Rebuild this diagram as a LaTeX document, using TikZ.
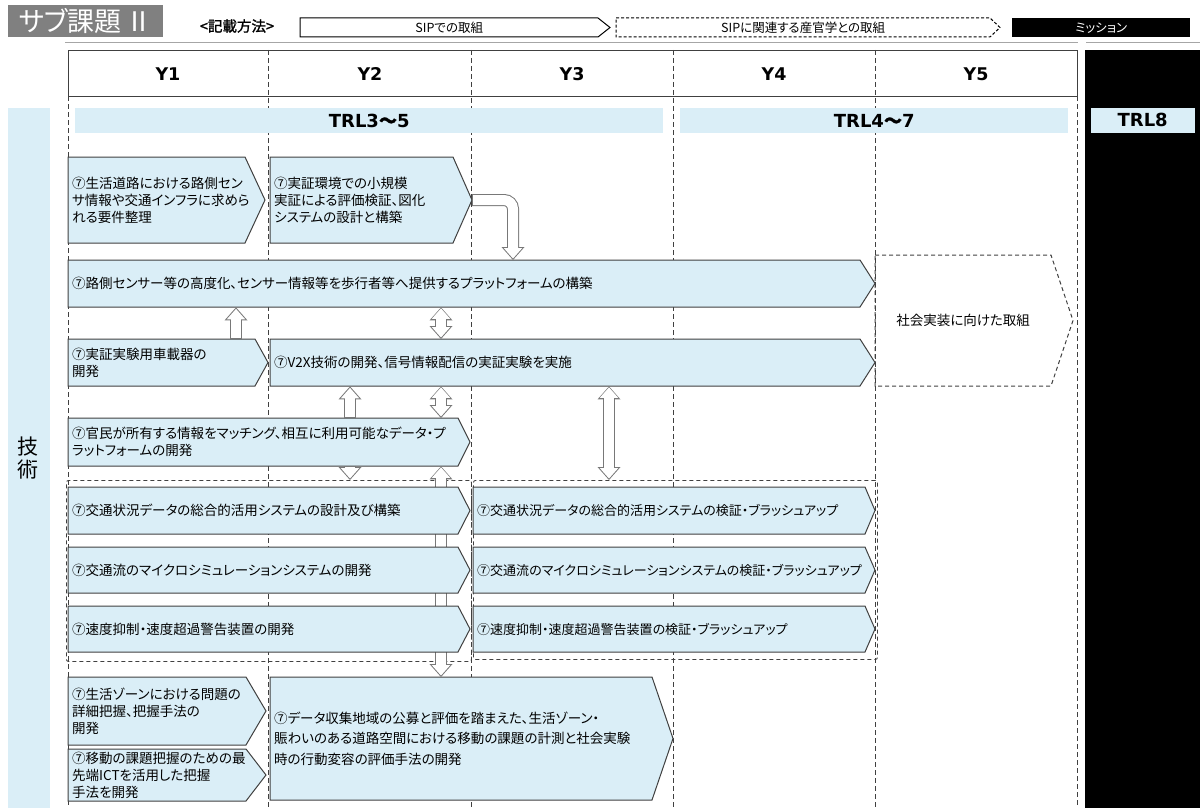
\documentclass[tikz,border=0pt]{standalone}
\usepackage{fontspec}
\usetikzlibrary{arrows.meta,calc}
\newfontfamily\cjk{Noto Sans CJK JP}[CharacterWidth=AlternateProportional]
\newfontfamily\cjkb{Noto Sans CJK JP}[FakeBold=1.5]
\newfontfamily\verd{DejaVu Sans}
\definecolor{boxblue}{RGB}{218,238,247}
\definecolor{boxgray}{RGB}{64,64,64}
\definecolor{arrowgray}{RGB}{120,120,120}
\definecolor{titlegray}{RGB}{128,128,128}

\tikzset{
  taskline/.style={draw=boxgray, fill=boxblue, line width=1pt},
  tasktext/.style={inner xsep=4pt, inner ysep=0pt, align=left, font=\cjk\fontsize{13.5}{17}\selectfont},
  narrowtext/.style={font=\cjk\fontsize{13}{17}\selectfont},
  plan/.style={fill=none, dash pattern=on 4pt off 3pt, align=center},
  legendbox/.style={fill=white, draw=black, align=center, font=\cjk\fontsize{12.5}{14}\selectfont},
  group/.style={draw=boxgray, dash pattern=on 4pt off 3pt, line width=0.9pt, rounded corners=2pt, inner sep=0pt},
  colsep/.style={draw=boxgray, line width=0.9pt, dash pattern=on 5pt off 3pt},
  yhead/.style={font=\verd\bfseries\fontsize{17.5}{17.5}\selectfont},
  trlbar/.style={fill=boxblue, inner sep=0pt, font=\verd\bfseries\fontsize{18}{18}\selectfont},
  hollowout/.style={draw=arrowgray, line width=12pt, >={Triangle[width=23pt,length=13pt,line width=0pt]}},
  hollowin/.style={draw=white, line width=10pt, shorten <=1pt, shorten >=1.5pt, >={Triangle[width=18.6pt,length=10.5pt,line width=0pt]}}
}

% [style]{name}{x}{y}{width}{height}{tip}{text}
\newcommand{\taskbox}[8][]{%
  \draw[taskline,#1] (#3,#4) -- ++(#5,0) -- ++(#7,#6/2) -- ++(-#7,#6/2) -- ++(-#5,0) -- cycle;
  \pgfmathsetmacro\boxtw{#5-8}
  \node[tasktext,#1,draw=none,fill=none,anchor=north west,minimum width=#5pt,minimum height=#6pt,text width=\boxtw pt] (#2) at (#3,#4) {#8};
  \coordinate (#2tip) at (#3+#5+#7,#4+#6/2);
}
% hollow block arrow
\newcommand{\hollow}[2][->]{%
  \draw[hollowout,#1] #2;
  \draw[hollowin,#1] #2;
}

\begin{document}
\begin{tikzpicture}[x=1pt,y=-1pt]
  \useasboundingbox (0,0) rectangle (1200,808);

  % legend row
  \node[fill=titlegray, text=white, font=\cjk\fontsize{27}{27}\selectfont, minimum width=155pt, minimum height=32pt, anchor=north west] (title) at (8,5) {サブ課題\hspace{4pt}Ⅱ};
  \node[font=\cjkb\fontsize{14.5}{14.5}\selectfont] (howto) at (237,26) {<記載方法>};
  \taskbox[legendbox]{sip}{300}{18}{298}{19}{12}{SIPでの取組}
  \taskbox[legendbox, dash pattern=on 3pt off 2pt]{partner}{616}{18}{374}{19}{10}{SIPに関連する産官学との取組}
  \node[fill=black, text=white, font=\cjk\fontsize{12.5}{14}\selectfont, minimum width=178pt, minimum height=19pt, anchor=north west] (mission) at (1012,18) {ミッション};
  \draw[gray!70, line width=1pt] (65,43) -- (1078,43) (1086,43) -- (1200,43);

  % years
  \node[draw=boxgray, line width=1.2pt, minimum width=1009pt, minimum height=46pt, anchor=north west] (years) at (68,50) {};
  \fill[black] (1085,50) rectangle (1200,808);
  \foreach \x in {268,471,673,875}
    \draw[colsep] (\x,50) -- (\x,808);
  \draw[colsep] (68,96) -- (68,808) (1077,96) -- (1077,808);
  \foreach \n/\x in {1/168,2/370,3/572,4/774,5/976}
    \node[yhead] (y\n) at (\x,74) {Y\n};

  % TRL
  \node[trlbar, minimum width=588pt, minimum height=25pt, anchor=north west] (trla) at (75,108) {TRL3{\cjkb 〜}5};
  \node[trlbar, minimum width=388pt, minimum height=25pt, anchor=north west] (trlb) at (680,108) {TRL4{\cjkb 〜}7};
  \node[trlbar, draw=black, minimum width=105pt, minimum height=26pt, anchor=north west] (trlc) at (1090,107) {TRL8};
  \fill[boxblue] (8,108) rectangle (50,808);
  \node[font=\cjk\fontsize{21}{23}\selectfont, align=center] (tech) at (28,458) {技\\術};

  % tasks
  \taskbox{A}{68}{157}{177}{86}{20}{⑦生活道路における路側セン\\サ情報や交通インフラに求めら\\れる要件整理}
  \taskbox{B}{270}{157}{183}{86}{19}{⑦実証環境での小規模\\実証による評価検証、図化\\システムの設計と構築}
  \taskbox{C}{68}{260}{792}{47}{15}{⑦路側センサー等の高度化、センサー情報等を歩行者等へ提供するプラットフォームの構築}
  \taskbox[plan]{S}{875}{255}{176}{131}{22}{社会実装に向けた取組}
  \taskbox{D}{68}{339}{187}{47}{13}{⑦実証実験用車載器の\\開発}
  \taskbox{E}{270}{339}{590}{47}{15}{⑦V2X技術の開発、信号情報配信の実証実験を実施}
  \taskbox{F}{68}{418}{390}{48}{12}{⑦官民が所有する情報をマッチング、相互に利用可能なデータ・プ\\ラットフォームの開発}
  \taskbox{K1}{68}{677}{178}{68}{20}{⑦生活ゾーンにおける問題の\\詳細把握、把握手法の\\開発}
  \taskbox{K2}{68}{749}{178}{52}{20}{⑦移動の課題把握のための最\\先端ICTを活用した把握\\手法を開発}
  \taskbox[font=\cjk\fontsize{13.5}{20.5}\selectfont]{L}{270}{677}{382}{123}{21}{⑦データ収集地域の公募と評価を踏まえた、生活ゾーン・\\賑わいのある道路空間における移動の課題の計測と社会実験\\時の行動変容の評価手法の開発}

  \node[group, minimum width=405pt, minimum height=181pt, anchor=north west] (Gl) at (66,480) {};
  \node[group, minimum width=404pt, minimum height=179pt, anchor=north west] (Gr) at (473,480) {};

  \coordinate (x1) at (236,0);
  \coordinate (x2) at (350,0);
  \coordinate (x3) at (441,0);
  \coordinate (x4) at (609,0);
  \coordinate (x5) at (513,0);
  \hollow[<->]{(F.south -| x3) -- (L.north -| x3)}

  \taskbox{G1}{68}{487}{390}{47}{12}{⑦交通状況データの総合的活用システムの設計及び構築}
  \taskbox{G2}{68}{547}{390}{46}{12}{⑦交通流のマイクロシミュレーションシステムの開発}
  \taskbox{G3}{68}{606}{390}{46}{12}{⑦速度抑制・速度超過警告装置の開発}
  \taskbox[narrowtext]{H1}{473}{487}{392}{47}{10}{⑦交通状況データの総合的活用システムの検証・ブラッシュアップ}
  \taskbox[narrowtext]{H2}{473}{547}{392}{46}{10}{⑦交通流のマイクロシミュレーションシステムの検証・ブラッシュアップ}
  \taskbox[narrowtext]{H3}{473}{606}{392}{46}{10}{⑦速度抑制・速度超過警告装置の検証・ブラッシュアップ}

  % links
  \hollow[->, rounded corners=9pt]{(Btip) -| (C.north -| x5)}
  \hollow{(D.north -| x1) -- (C.south -| x1)}
  \hollow[<->]{(C.south -| x3) -- (E.north -| x3)}
  \hollow{(F.north -| x2) -- (E.south -| x2)}
  \hollow[<->]{(E.south -| x3) -- (F.north -| x3)}
  \hollow{(F.south -| x2) -- (Gl.north -| x2)}
  \hollow[<->]{(E.south -| x4) -- (Gr.north -| x4)}
\end{tikzpicture}
\end{document}
